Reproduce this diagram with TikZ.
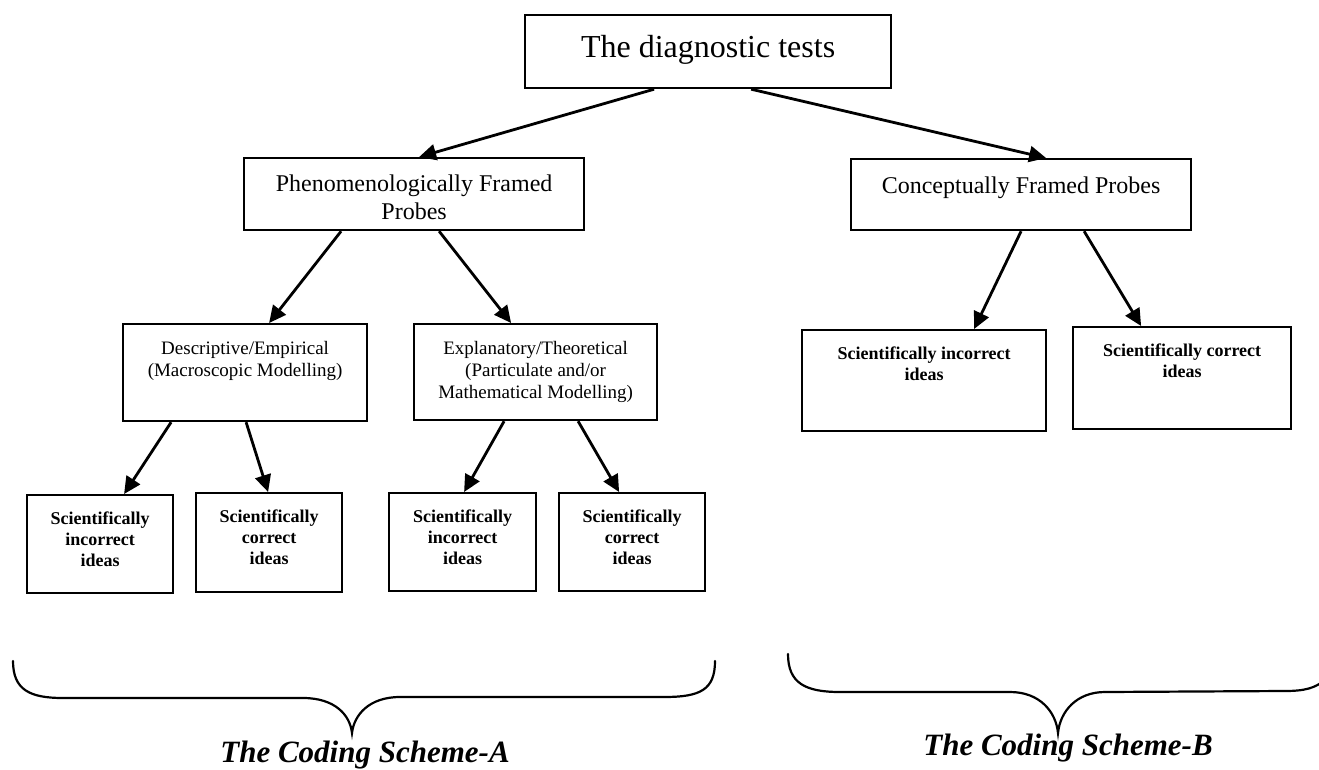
\documentclass[tikz,border=0pt]{standalone}
\usepackage{fontspec}
\setmainfont{Liberation Serif}
\usetikzlibrary{arrows.meta}
% text block of a fixed size, set from the top with a given padding
\newcommand\cellbox[4]{\parbox[c][#2][t]{#1}{\centering\vspace*{#3}\strut #4\par}}

\begin{document}
\begin{tikzpicture}[x=1pt,y=-1pt,
  box/.style={draw, line width=2.2pt, inner sep=0pt, anchor=north west},
  arr/.style={line width=2.8pt, -{Triangle[length=17pt,width=16pt]}},
  brace/.style={line width=2.2pt, line cap=round},
  bigtext/.style={font=\fontsize{32}{38}\selectfont},
  midtext/.style={font=\fontsize{24}{28}\selectfont},
  smalltext/.style={font=\fontsize{19}{22}\selectfont},
  ideatext/.style={font=\bfseries\fontsize{18}{21}\selectfont},
  scheme/.style={font=\bfseries\itshape\fontsize{31}{36}\selectfont, anchor=base, inner sep=0pt}]

\useasboundingbox (0,0) rectangle (1319,770);
\fill[white] (0,0) rectangle (1319,770);

% top level
\node[box,bigtext] (tests) at (524,14) {\cellbox{366pt}{73pt}{16pt}{The diagnostic tests}};

% probe types
\node[box,midtext] (phen) at (243,157) {\cellbox{340pt}{72pt}{14pt}{Phenomenologically Framed\\ Probes}};
\node[box,midtext] (conc) at (850,158) {\cellbox{340pt}{71pt}{15pt}{Conceptually Framed Probes}};

% modelling levels
\node[box,smalltext] (desc) at (122,323) {\cellbox{244pt}{97pt}{14.5pt}{Descriptive/Empirical\\ (Macroscopic Modelling)}};
\node[box,smalltext] (expl) at (413,323) {\cellbox{243pt}{96pt}{14.5pt}{Explanatory/Theoretical\\ (Particulate and/or\\ Mathematical Modelling)}};

% idea categories, scheme A
\node[box,ideatext] (b1) at (26,494) {\cellbox{146pt}{98pt}{15pt}{Scientifically\\ incorrect\\ ideas}};
\node[box,ideatext] (b2) at (195,492) {\cellbox{146pt}{99pt}{15pt}{Scientifically\\ correct\\ ideas}};
\node[box,ideatext] (b3) at (388,492) {\cellbox{147pt}{98pt}{15pt}{Scientifically\\ incorrect\\ ideas}};
\node[box,ideatext] (b4) at (558,492) {\cellbox{146pt}{98pt}{15pt}{Scientifically\\ correct\\ ideas}};

% idea categories, scheme B
\node[box,ideatext] (rA) at (801,329) {\cellbox{244pt}{101pt}{15pt}{Scientifically incorrect\\ ideas}};
\node[box,ideatext] (rB) at (1072,326) {\cellbox{218pt}{102pt}{15pt}{Scientifically correct\\ ideas}};

% connectors
\draw[arr] ([xshift=-54pt]tests.south) -- ([xshift=5pt]phen.north);
\draw[arr] ([xshift=43pt]tests.south) -- ([xshift=25pt]conc.north);
\draw[arr] ([xshift=-73pt]phen.south) -- ([xshift=24pt]desc.north);
\draw[arr] ([xshift=25pt]phen.south) -- ([xshift=-24.5pt]expl.north);
\draw[arr] ([xshift=-74pt]desc.south) -- ([xshift=24pt]b1.north);
\draw[arr] ([xshift=1pt]desc.south) -- ([xshift=-1pt]b2.north);
\draw[arr] ([xshift=-31.5pt]expl.south) -- ([xshift=1.5pt]b3.north);
\draw[arr] ([xshift=42.5pt]expl.south) -- ([xshift=-13pt]b4.north);
\draw[arr] (conc.south) -- ([xshift=50pt]rA.north);
\draw[arr] ([xshift=63pt]conc.south) -- ([xshift=-41pt]rB.north);

% braces and scheme labels
\begin{scope}
  \clip (0,0) rectangle (1319,770);
  \draw[brace] (13,661) .. controls (13,690) and (30,698) .. (63,698)
    -- (303,698) .. controls (335,698) and (350,715) .. (352,733)
    .. controls (354,715) and (369,697) .. (400,697)
    -- (664,697) .. controls (700,697) and (715,690) .. (715,661);
  \draw[brace] (788,654) .. controls (788,683) and (805,692) .. (840,692)
    -- (1010,692) .. controls (1040,692) and (1056,712) .. (1058,733)
    .. controls (1060,712) and (1076,692) .. (1105,692)
    -- (1285,691) .. controls (1305,691) and (1315,688) .. (1325,680);
  \node[scheme] (schemeA) at (365,762) {The Coding Scheme-A};
  \node[scheme] (schemeB) at (1068,755) {The Coding Scheme-B};
\end{scope}
\end{tikzpicture}
\end{document}
